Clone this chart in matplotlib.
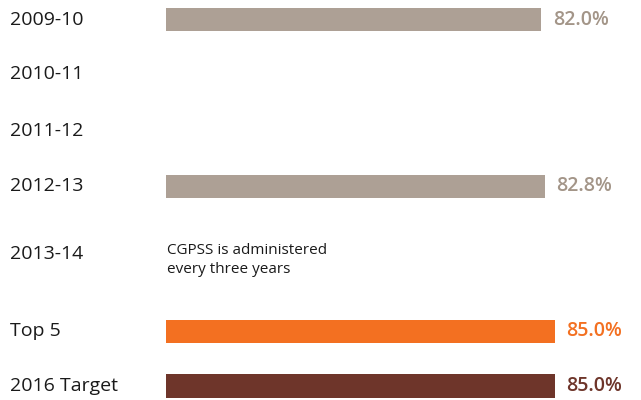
import matplotlib.pyplot as plt
import matplotlib.transforms as mtransforms

# === data ===
categories = ['2009-10', '2010-11', '2011-12', '2012-13', '2013-14', 'Top 5', '2016 Target']
values = [82.0, None, None, 82.8, None, 85.0, 85.0]
value_labels = ['82.0%', '', '', '82.8%', '', '85.0%', '85.0%']
note = 'CGPSS is administered\nevery three years'

# row layout (uneven spacing, top to bottom)
rows = [0, 0.99, 2.03, 3.03, 4.26, 5.67, 6.66]
colors = ['#ada095', None, None, '#ada095', None, '#f37021', '#6e352a']
label_colors = ['#a39588', None, None, '#a39588', None, '#f37021', '#6e352a']

plt.rcParams['font.family'] = ['Open Sans', 'DejaVu Sans']

fig = plt.figure(figsize=(6.41, 4.0), dpi=100)
ax = fig.add_axes([166 / 641, 0, 475 / 641, 1])

for y, v, c, tc, lab in zip(rows, values, colors, label_colors, value_labels):
    if v is None:
        continue
    ax.barh(y, v, height=0.42, color=c, left=0)
    ax.text(v + 2.5, y, lab, color=tc, fontsize=14, fontweight='semibold',
            ha='left', va='center')

# category names at the left edge of the figure
trans = mtransforms.blended_transform_factory(fig.transFigure, ax.transData)
for y, name in zip(rows, categories):
    ax.text(10 / 641, y, name, transform=trans, fontsize=14, color='#1a1a1a',
            ha='left', va='center')

ax.text(0.2, rows[4] + 0.11, note, fontsize=11, color='#1a1a1a',
        ha='left', va='center', linespacing=1.3)

ax.set_xlim(0, 103.8)
ax.set_ylim(6.915, -0.355)
ax.axis('off')

plt.savefig('out.png', dpi=100)
